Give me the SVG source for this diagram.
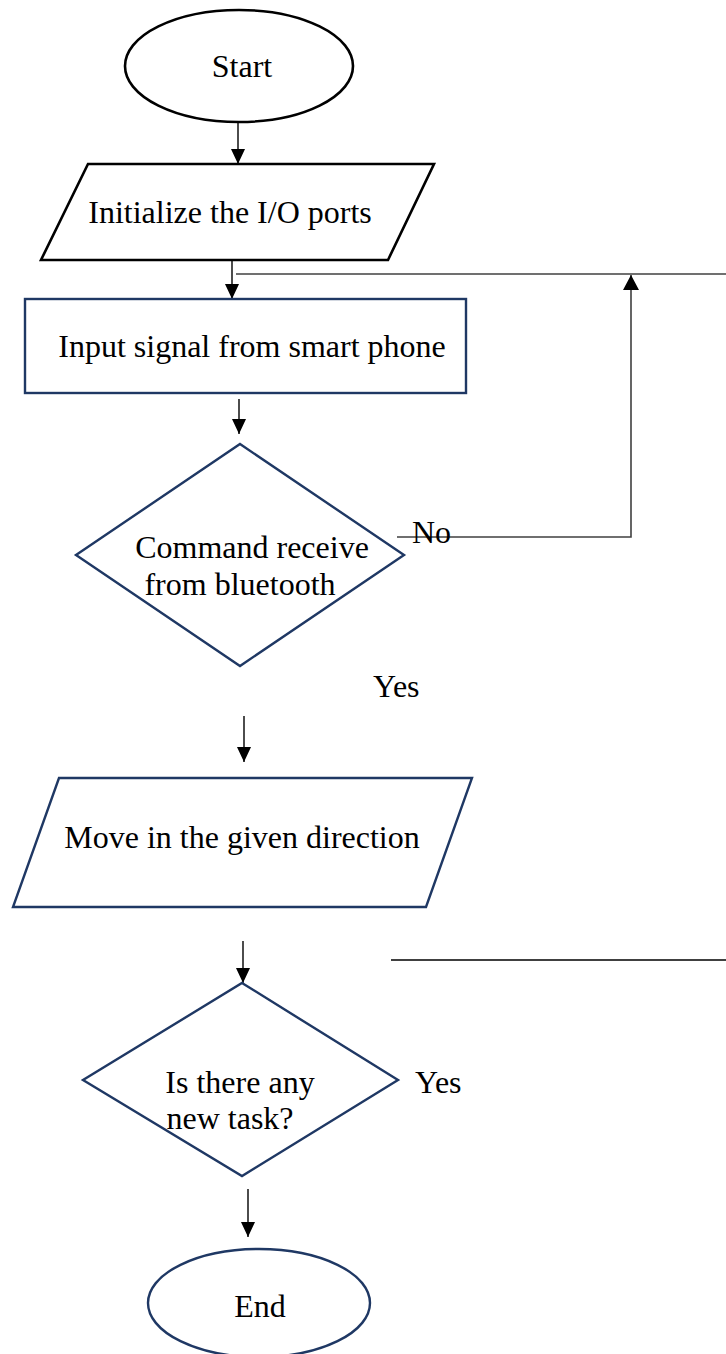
<svg xmlns="http://www.w3.org/2000/svg" width="726" height="1354" viewBox="0 0 726 1354">
<style>
text{font-family:"Liberation Serif","Times New Roman",serif;font-size:32px;fill:#000}
.c{text-anchor:middle}
.nb{fill:#fff;stroke:#000;stroke-width:2.6}
.nn{fill:#fff;stroke:#1f3864;stroke-width:2.4}
.ar{stroke:#000;stroke-width:1.4;fill:none;marker-end:url(#ah)}
.ln{stroke:#404040;stroke-width:1.6;fill:none}
.lk{stroke:#000;stroke-width:1.4;fill:none}
</style>
<defs>
<marker id="ah" markerUnits="userSpaceOnUse" markerWidth="15" markerHeight="14" refX="15" refY="7" orient="auto">
<path d="M0,0 L15,7 L0,14 z" fill="#000"/>
</marker>
<marker id="ahg" markerUnits="userSpaceOnUse" markerWidth="15" markerHeight="16" refX="15" refY="8" orient="auto">
<path d="M0,0 L15,8 L0,16 z" fill="#000"/>
</marker>
</defs>
<rect width="726" height="1354" fill="#fff"/>
<g id="connectors">
<line class="ar" x1="238" y1="122" x2="238" y2="164"/>
<line class="ar" x1="232" y1="260" x2="232" y2="299"/>
<line class="ln" x1="236" y1="274" x2="726" y2="274"/>
<polyline class="ln" points="397,537 631,537 631,275" marker-end="url(#ahg)"/>
<line class="ar" x1="239" y1="399" x2="239" y2="434"/>
<line class="ar" x1="244" y1="716" x2="244" y2="762"/>
<line class="ar" x1="243" y1="941" x2="243" y2="983"/>
<line class="lk" x1="391" y1="960" x2="726" y2="960"/>
<line class="ar" x1="248" y1="1189" x2="248" y2="1237"/>
</g>
<g id="start">
<ellipse class="nb" cx="239" cy="66" rx="114" ry="56"/>
<text class="c" x="242" y="77">Start</text>
</g>
<g id="init">
<polygon class="nb" points="88,164 434,164 388,260 41,260"/>
<text class="c" x="230" y="223">Initialize the I/O ports</text>
</g>
<g id="input">
<rect class="nn" x="25" y="299" width="441" height="94"/>
<text class="c" x="252" y="357">Input signal from smart phone</text>
</g>
<g id="command">
<polygon class="nn" points="240,444 404,555 240,666 76,555"/>
<text class="c" x="252" y="558">Command receive</text>
<text class="c" x="240" y="595">from bluetooth</text>
</g>
<g id="label-no"><text x="412" y="543">No</text></g>
<g id="label-yes1"><text x="373" y="697">Yes</text></g>
<g id="move">
<polygon class="nn" points="59,778 472,778 426,907 13,907"/>
<text class="c" x="242" y="848">Move in the given direction</text>
</g>
<g id="newtask">
<polygon class="nn" points="242,983 398,1080 242,1176 83,1080"/>
<text class="c" x="240" y="1093">Is there any</text>
<text class="c" x="230" y="1129">new task?</text>
</g>
<g id="label-yes2"><text x="415" y="1093">Yes</text></g>
<g id="end">
<ellipse class="nn" cx="259" cy="1303" rx="111" ry="54"/>
<text class="c" x="260" y="1317">End</text>
</g>
</svg>
